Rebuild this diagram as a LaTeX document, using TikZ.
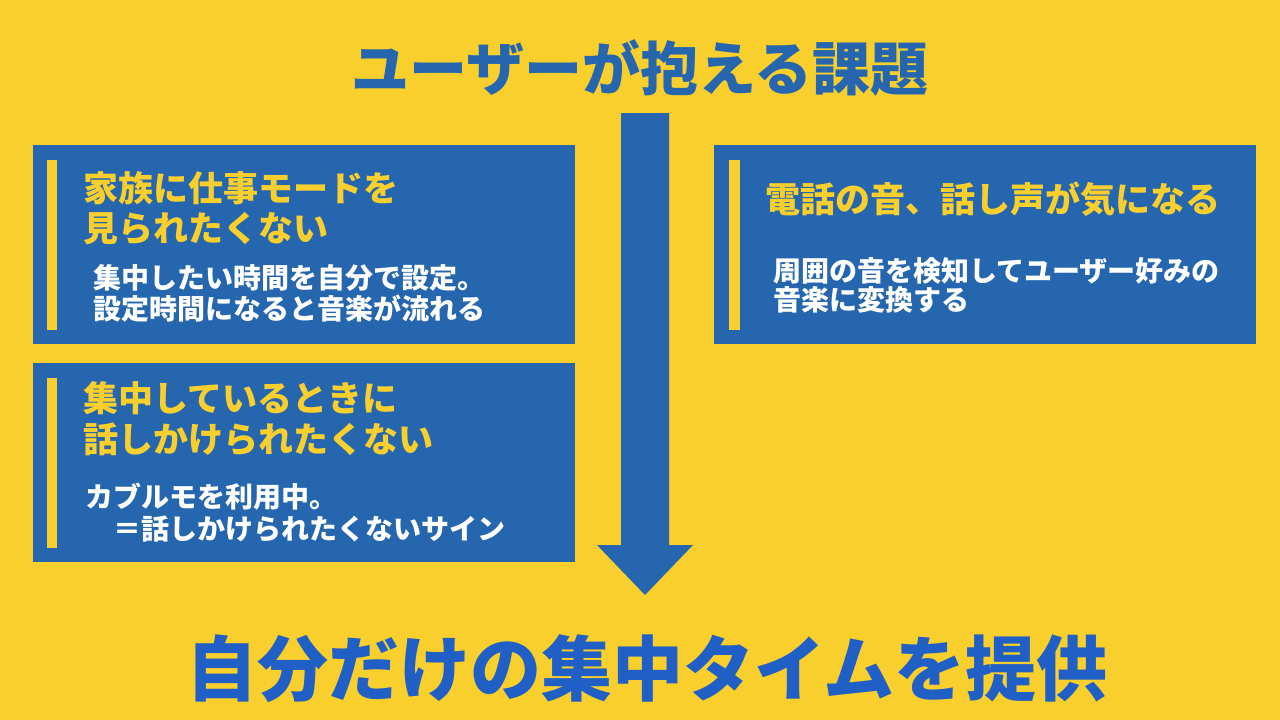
\documentclass[tikz,border=0pt]{standalone}
\usepackage{fontspec}
\newfontfamily\jpfont{Noto Sans CJK JP}
\usetikzlibrary{positioning}
\definecolor{bgyellow}{HTML}{F9CF2D}
\definecolor{cardblue}{HTML}{2566AF}
\definecolor{goalblue}{HTML}{1F5FC6}
\newcommand\fs[1]{\jpfont\bfseries\fontsize{#1}{#1}\selectfont}

\begin{document}
\begin{tikzpicture}[x=1pt,y=-1pt]%
        \useasboundingbox (0,0) rectangle (1280,720); %%
        \fill[bgyellow] (0,0) rectangle (1280,720); %%
        % cards
        \begin{scope}[inner sep=0pt, minimum width=542pt, minimum height=199pt]
        \tikzstyle{every node}=[fill=cardblue,anchor=north west] %%
        \node (c1) at (33,145)  {}; %%
        \node (c2) at (33,363)  {}; %%
        \node (c3) at (714,145) {}; %%
        \end{scope}
        % yellow bars
        \fill[bgyellow] (47,160) rectangle (57,330); %%
        \fill[bgyellow] (47,378) rectangle (57,548); %%
        \fill[bgyellow] (729,160) rectangle (740,330); %%
        % big arrow
        \coordinate (arrtop) at (645,113); %%
        \coordinate (arrtip) at (645,595); %%
        \fill[cardblue] (arrtop) ++(-24,0) -- ++(48,0) -- ++(0,432) -- ++(24,0)
                -- (arrtip) -- ++(-48,-50) -- ++(24,0) -- cycle; %%
        % titles
        \begin{scope}[inner sep=0pt]
        \tikzstyle{every node}=[anchor=base] %%
        \node[text=cardblue,font=\fs{58}] (top) at (640,90) {ユーザーが抱える課題}; %%
        \node[text=goalblue,font=\fs{71}] (goal) at (647,695) {自分だけの集中タイムを提供}; %%
        \end{scope}
        % card headlines
        \begin{scope}[inner sep=0pt]
        \tikzstyle{every node}=[anchor=base west,text=bgyellow,font=\fs{35}] %%
        \node (h1a) at (83,201) {家族に仕事モードを}; %%
        \node (h1b) at (83,241) {見られたくない}; %%
        \node (h2a) at (83,411) {集中しているときに}; %%
        \node (h2b) at (83,452) {話しかけられたくない}; %%
        \node (h3a) at (765,212) {電話の音、話し声が気になる}; %%
        \end{scope}
        % card texts
        \begin{scope}[inner sep=0pt]
        \tikzstyle{every node}=[anchor=base west,text=white,font=\fs{28}] %%
        \node (s1a) at (93,288) {集中したい時間を自分で設定。}; %%
        \node (s1b) at (93,319) {設定時間になると音楽が流れる}; %%
        \node (s2a) at (85,507) {カブルモを利用中。}; %%
        \node (s2b) at (85,539) {　＝話しかけられたくないサイン}; %%
        \node (s3a) at (773,281) {周囲の音を検知してユーザー好みの}; %%
        \node (s3b) at (773,310) {音楽に変換する}; %%
        \end{scope}
\end{tikzpicture}
\end{document}
